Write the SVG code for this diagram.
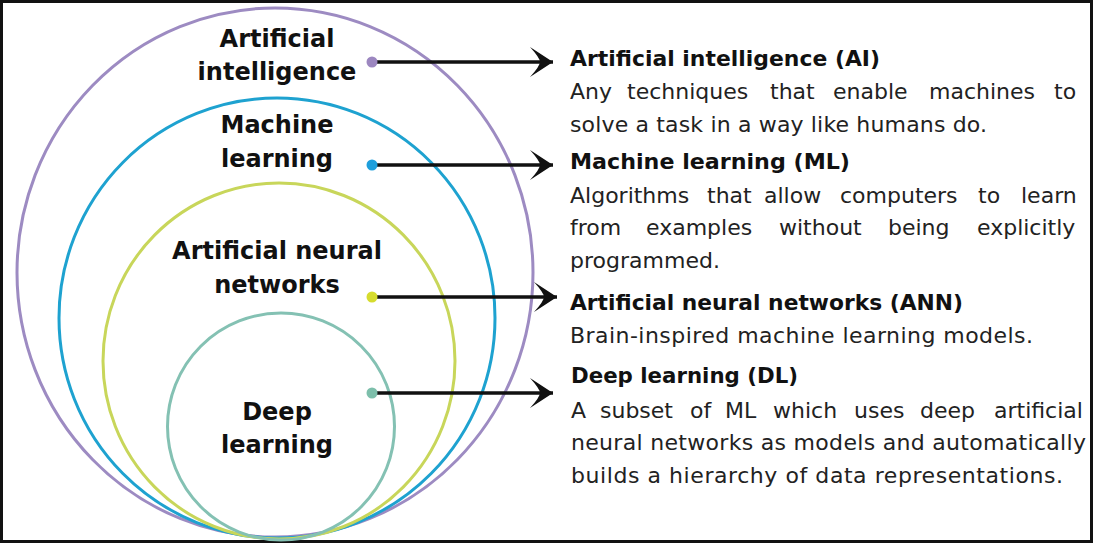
<svg xmlns="http://www.w3.org/2000/svg" width="1094" height="544" viewBox="0 0 1094 544">
<style>
.ring{fill:none;stroke-width:3}
.lbl{font-family:"DejaVu Sans",sans-serif;font-weight:bold;font-size:24px;fill:#111;text-anchor:middle}
.hd{font-family:"DejaVu Sans",sans-serif;font-weight:bold;font-size:22px;fill:#111}
.ds{font-family:"DejaVu Sans",sans-serif;font-size:22px;fill:#222}
.conn line{stroke:#111;stroke-width:3.5}
</style>
<defs>
<marker id="ah" viewBox="-24 -16 25 32" refX="0" refY="0" markerWidth="25" markerHeight="32" markerUnits="userSpaceOnUse" orient="auto">
<path d="M0,0 L-23,-15 Q-13,-4 -13,0 Q-13,4 -23,15 Z" fill="#111"/>
</marker>
</defs>
<rect x="0" y="0" width="1094" height="544" fill="#fff"/>
<rect x="1.5" y="1.5" width="1090" height="540" fill="none" stroke="#111" stroke-width="3"/>

<g id="ai">
<ellipse class="ring" cx="275" cy="272.5" rx="258" ry="264.5" stroke="#9d8bc2"/>
<text class="lbl" x="277" y="47">Artificial</text>
<text class="lbl" x="277" y="80">intelligence</text>
</g>
<g id="ml">
<ellipse class="ring" cx="277" cy="318" rx="218" ry="220" stroke="#1ea2d0"/>
<text class="lbl" x="277" y="133">Machine</text>
<text class="lbl" x="277" y="167">learning</text>
</g>
<g id="ann">
<ellipse class="ring" cx="279" cy="361" rx="176" ry="178" stroke="#c8d65a"/>
<text class="lbl" x="277" y="259">Artificial neural</text>
<text class="lbl" x="277" y="293">networks</text>
</g>
<g id="dl">
<ellipse class="ring" cx="281" cy="426.5" rx="113.5" ry="113.5" stroke="#84c1b3"/>
<text class="lbl" x="277" y="420">Deep</text>
<text class="lbl" x="277" y="453">learning</text>
</g>

<g id="connectors" class="conn">
<line x1="372" y1="62" x2="553" y2="62" marker-end="url(#ah)"/>
<line x1="372" y1="165" x2="553" y2="165" marker-end="url(#ah)"/>
<line x1="372" y1="297" x2="557" y2="297" marker-end="url(#ah)"/>
<line x1="372" y1="393" x2="553" y2="393" marker-end="url(#ah)"/>
<circle cx="372" cy="62" r="5.5" fill="#9c87c0"/>
<circle cx="372" cy="165" r="5.5" fill="#1e9fdc"/>
<circle cx="372" cy="297" r="5.5" fill="#d6dc2e"/>
<circle cx="372" cy="393" r="5.5" fill="#7dbfab"/>
</g>

<g id="desc-ai">
<text class="hd" x="570" y="66" textLength="310" lengthAdjust="spacingAndGlyphs">Artificial intelligence (AI)</text>
<text class="ds" y="99"><tspan x="570">Any</tspan> <tspan x="627">techniques</tspan> <tspan x="770">that</tspan> <tspan x="833">enable</tspan> <tspan x="929">machines</tspan> <tspan x="1054">to</tspan></text>
<text class="ds" x="570" y="132" textLength="417" lengthAdjust="spacing">solve a task in a way like humans do.</text>
</g>
<g id="desc-ml">
<text class="hd" x="570" y="169" textLength="280" lengthAdjust="spacingAndGlyphs">Machine learning (ML)</text>
<text class="ds" y="203"><tspan x="570">Algorithms</tspan> <tspan x="707">that</tspan> <tspan x="764">allow</tspan> <tspan x="840">computers</tspan> <tspan x="978">to</tspan> <tspan x="1021">learn</tspan></text>
<text class="ds" y="235"><tspan x="570">from</tspan> <tspan x="646">examples</tspan> <tspan x="779">without</tspan> <tspan x="888">being</tspan> <tspan x="977">explicitly</tspan></text>
<text class="ds" x="570" y="268" textLength="150" lengthAdjust="spacing">programmed.</text>
</g>
<g id="desc-ann">
<text class="hd" x="570" y="310" textLength="393" lengthAdjust="spacingAndGlyphs">Artificial neural networks (ANN)</text>
<text class="ds" x="570" y="343" textLength="463" lengthAdjust="spacing">Brain-inspired machine learning models.</text>
</g>
<g id="desc-dl">
<text class="hd" x="571" y="383" textLength="227" lengthAdjust="spacingAndGlyphs">Deep learning (DL)</text>
<text class="ds" y="418"><tspan x="571">A</tspan> <tspan x="600">subset</tspan> <tspan x="690">of</tspan> <tspan x="725">ML</tspan> <tspan x="773">which</tspan> <tspan x="854">uses</tspan> <tspan x="920">deep</tspan> <tspan x="994">artificial</tspan></text>
<text class="ds" x="571" y="450" textLength="515" lengthAdjust="spacing">neural networks as models and automatically</text>
<text class="ds" x="571" y="483" textLength="492" lengthAdjust="spacing">builds a hierarchy of data representations.</text>
</g>
</svg>
